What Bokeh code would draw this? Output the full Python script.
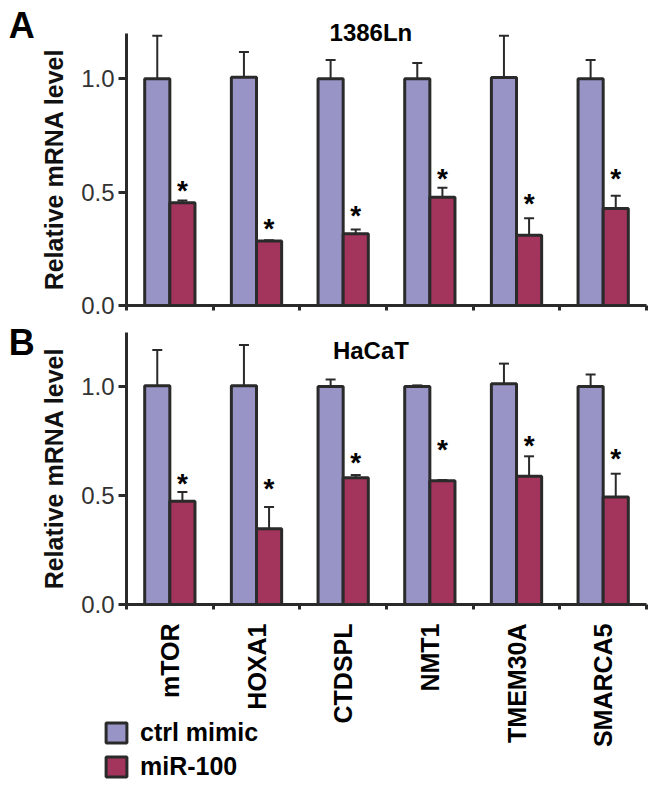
from math import pi
from bokeh.plotting import figure
from bokeh.models import (Range1d, LinearAxis, FixedTicker, ColumnDataSource,
                          Whisker, TeeHead, Label, Legend, LegendItem, PrintfTickFormatter)
from bokeh.transform import dodge
from bokeh.core.properties import value
from bokeh.embed import file_html
from bokeh.resources import INLINE

# ---------------- data ----------------
genes = ["mTOR", "HOXA1", "CTDSPL", "NMT1", "TMEM30A", "SMARCA5"]
series_names = ["ctrl mimic", "miR-100"]
y_ticks = [0.0, 0.5, 1.0]

# Panel A: 1386Ln
ctrl_a = [1.00, 1.007, 1.00, 1.00, 1.006, 1.00]
ctrl_sd_a = [0.19, 0.111, 0.083, 0.07, 0.184, 0.083]
mir_a = [0.453, 0.285, 0.317, 0.478, 0.31, 0.428]
mir_sd_a = [0.010, 0.003, 0.018, 0.041, 0.075, 0.056]
star_a = [0.535, 0.365, 0.425, 0.586, 0.476, 0.586]

# Panel B: HaCaT
ctrl_b = [1.005, 1.005, 1.002, 1.002, 1.015, 1.002]
ctrl_sd_b = [0.165, 0.188, 0.032, 0.005, 0.092, 0.055]
mir_b = [0.474, 0.348, 0.583, 0.569, 0.589, 0.494]
mir_sd_b = [0.043, 0.100, 0.012, 0.003, 0.092, 0.107]
star_b = [0.584, 0.559, 0.681, 0.741, 0.759, 0.700]

# ---------------- style / layout ----------------
CTRL = "#9894C6"
MIR = "#A3345B"
EDGE = "#2a2a2a"
FONT = "Liberation Sans"
OFF = 0.145
BW = 0.29

PAGE = 0                     # where the canvas starts on the page
FIG_W, FIG_H = 648, 779
AX_X, CAT_PX = 126, 86.67    # y-axis position and category width (page px)
A_ZERO, A_TOP, A_MAX = 305, 33, 1.2
B_ZERO, B_TOP, B_MAX = 604, 332, 1.25
ua = (A_ZERO - A_TOP) / A_MAX
ub = (B_ZERO - B_TOP) / B_MAX
n = len(genes)

p = figure(width=FIG_W, height=FIG_H, output_backend="svg", toolbar_location=None,
           x_axis_location=None, y_axis_location=None, min_border=0,
           x_range=Range1d((PAGE - AX_X) / CAT_PX, (PAGE + FIG_W - AX_X) / CAT_PX),
           y_range=Range1d((A_ZERO - PAGE - FIG_H) / ua, (A_ZERO - PAGE) / ua))
p.extra_y_ranges = {"b": Range1d((B_ZERO - PAGE - FIG_H) / ub, (B_ZERO - PAGE) / ub)}
p.grid.visible = False
p.outline_line_color = None
p.background_fill_color = "white"

pos = [i + 0.5 for i in range(n)]  # category centres


def panel(rname, ymax, ctrl, ctrl_sd, mir, mir_sd, star, title, title_y, letter, letter_y,
          show_labels):
    src = ColumnDataSource(dict(
        gene=genes, pos=pos, ctrl=ctrl, mir=mir,
        ctrl_hi=[v + s for v, s in zip(ctrl, ctrl_sd)],
        mir_hi=[v + s for v, s in zip(mir, mir_sd)],
        star=star, sig=["*"] * n))

    for top, hi, off in (("ctrl", "ctrl_hi", -OFF), ("mir", "mir_hi", OFF)):
        p.add_layout(Whisker(base=dodge("pos", off), lower=top, upper=hi, y_range_name=rname,
                             source=src, dimension="height", line_color=EDGE, line_width=2,
                             upper_head=TeeHead(size=10, line_color=EDGE, line_width=2),
                             lower_head=None, level="glyph"))

    r1 = p.vbar(x=dodge("pos", -OFF), top="ctrl", width=BW, source=src, y_range_name=rname,
                fill_color=CTRL, line_color=EDGE, line_width=3)
    r2 = p.vbar(x=dodge("pos", OFF), top="mir", width=BW, source=src, y_range_name=rname,
                fill_color=MIR, line_color=EDGE, line_width=3)

    p.text(x=dodge("pos", OFF), y="star", text="sig", source=src, y_range_name=rname,
           text_font=value(FONT), text_font_style="bold", text_font_size="28px",
           text_align="center", text_baseline="middle", y_offset=6, text_color="black")

    xa = LinearAxis(y_range_name=rname, fixed_location=0, bounds=(0, n),
                    ticker=FixedTicker(ticks=pos if show_labels else [],
                                       minor_ticks=list(range(n + 1))))
    if show_labels:
        xa.major_label_overrides = {c: g for c, g in zip(pos, genes)}
    xa.major_tick_line_color = None
    xa.major_tick_out = 0
    xa.major_tick_in = 0
    xa.minor_tick_out = 5
    xa.minor_tick_in = 0
    xa.minor_tick_line_color = EDGE
    xa.minor_tick_line_width = 3
    xa.axis_line_color = EDGE
    xa.axis_line_width = 3
    xa.major_label_orientation = pi / 2
    xa.major_label_standoff = 14
    xa.major_label_text_font = FONT
    xa.major_label_text_font_style = "bold"
    xa.major_label_text_font_size = "25px"
    xa.major_label_text_color = "black"
    p.add_layout(xa, "below")

    ya = LinearAxis(y_range_name=rname, fixed_location=0, bounds=(0, ymax),
                    ticker=FixedTicker(ticks=y_ticks, minor_ticks=[]),
                    formatter=PrintfTickFormatter(format="%.1f"))
    ya.major_tick_out = 8
    ya.major_tick_in = 0
    ya.major_tick_line_width = 3
    ya.major_tick_line_color = EDGE
    ya.axis_line_width = 3
    ya.axis_line_color = EDGE
    ya.major_label_text_font = FONT
    ya.major_label_text_font_size = "24px"
    ya.major_label_text_color = "#333333"
    ya.major_label_standoff = 4
    ya.axis_label = "Relative mRNA level"
    ya.axis_label_text_font = FONT
    ya.axis_label_text_font_style = "bold"
    ya.axis_label_text_font_size = "25px"
    ya.axis_label_text_color = "#111111"
    ya.axis_label_standoff = 10
    p.add_layout(ya, "left")

    p.add_layout(Label(x=2.82, y=title_y, y_range_name=rname, text=title,
                       text_font=FONT, text_font_style="bold", text_font_size="24px",
                       text_align="center", text_baseline="middle", text_color="black"))
    p.add_layout(Label(x=-1.21, y=letter_y, y_range_name=rname, text=letter,
                       text_font=FONT, text_font_style="bold", text_font_size="36px",
                       text_align="center", text_baseline="middle", text_color="black"))
    return r1, r2


panel("default", A_MAX, ctrl_a, ctrl_sd_a, mir_a, mir_sd_a, star_a, "1386Ln", 1.204, "A", 1.235,
      False)
rb1, rb2 = panel("b", B_MAX, ctrl_b, ctrl_sd_b, mir_b, mir_sd_b, star_b, "HaCaT", 1.169, "B",
                 1.203, True)

legend = Legend(items=[LegendItem(label=series_names[0], renderers=[rb1]),
                       LegendItem(label=series_names[1], renderers=[rb2])],
                location=(103 - PAGE, PAGE + FIG_H - 781), orientation="vertical",
                glyph_width=26, glyph_height=25, label_height=25, spacing=5,
                label_standoff=11, padding=0, margin=0,
                border_line_color=None, background_fill_alpha=0,
                label_text_font=FONT, label_text_font_style="bold",
                label_text_font_size="25px", label_text_color="black")
p.add_layout(legend, "center")

open("out.html", "w").write(file_html(p, INLINE))
